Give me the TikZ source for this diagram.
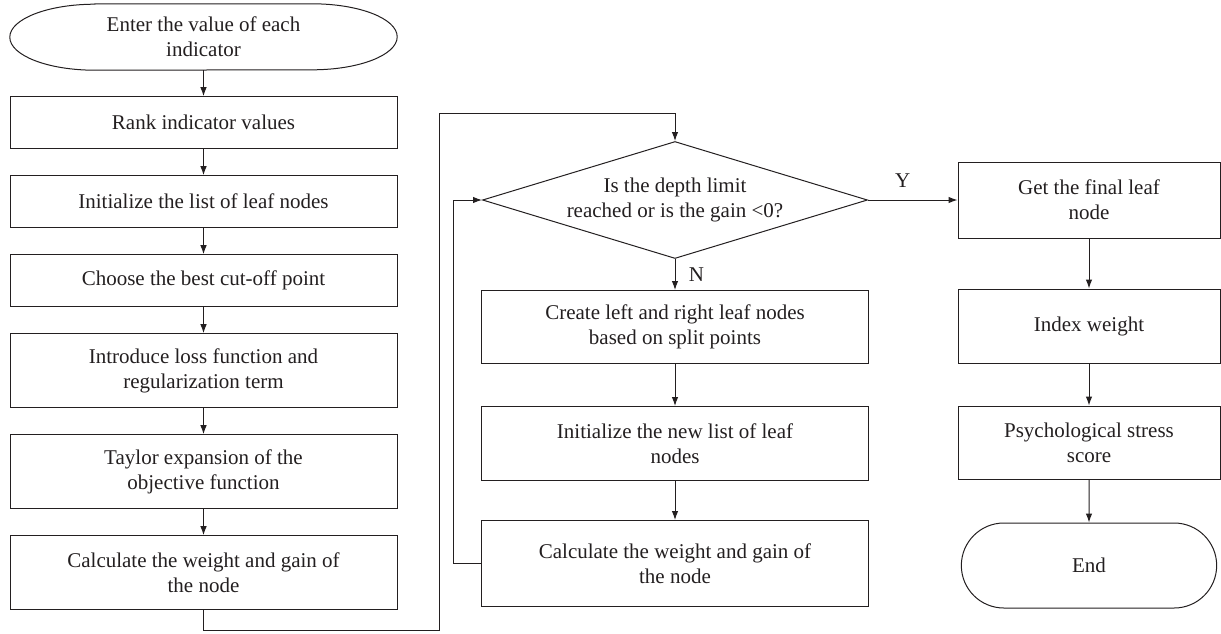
\documentclass[tikz,border=0pt]{standalone}
\usepackage{fontspec}
\setmainfont{Liberation Serif}
\usepackage{tikz}
\usetikzlibrary{positioning,shapes.geometric,shapes.misc,arrows.meta}
\definecolor{inkgray}{HTML}{231F20}

\begin{document}
\begin{tikzpicture}[
    x=1pt, y=-1pt,
    node distance=26pt,
    every node/.style={align=center, text=inkgray, font=\fontsize{21}{25}\selectfont},
    procbox/.style={rectangle, draw=inkgray, line width=1pt, minimum width=387pt, minimum height=52pt, inner sep=2pt},
    tallbox/.style={procbox, minimum height=74pt},
    sidebox/.style={procbox, minimum width=262pt, minimum height=74pt},
    decision/.style={diamond, draw=inkgray, line width=1pt, minimum width=385pt, minimum height=117pt, inner sep=0pt, aspect=3.3},
    flow/.style={draw=inkgray, line width=1pt, -{Latex[length=9pt,width=6.5pt]}}
]
\useasboundingbox (0,0) rectangle (1221,633);

% first column
\node (start) [minimum width=387pt, minimum height=66pt, inner sep=0pt] at (203.5,37) {Enter the value of each\\indicator};
\draw[inkgray, line width=1pt] ([xshift=85pt]start.north west) -- ([xshift=-85pt]start.north east)
    arc[start angle=90, end angle=-90, x radius=85pt, y radius=33pt]
    -- ([xshift=85pt]start.south west)
    arc[start angle=270, end angle=90, x radius=85pt, y radius=33pt] -- cycle;
\node (rank) [procbox, below=of start] {Rank indicator values};
\node (initlist) [procbox, below=of rank] {Initialize the list of leaf nodes};
\node (cutoff) [procbox, below=of initlist] {Choose the best cut-off point};
\node (loss) [tallbox, below=of cutoff] {Introduce loss function and\\regularization term};
\node (taylor) [tallbox, below=of loss] {Taylor expansion of the\\objective function};
\node (calcfirst) [tallbox, below=of taylor] {Calculate the weight and gain of\\the node};

% second column
\node (depth) [decision] at (675,200) {Is the depth limit\\reached or is the gain <0?};
\node (split) [tallbox, minimum height=73pt, below=31pt of depth] {Create left and right leaf nodes\\based on split points};
\node (newlist) [tallbox, below=42pt of split] {Initialize the new list of leaf\\nodes};
\node (calcloop) [tallbox, minimum height=86pt, below=39pt of newlist] {Calculate the weight and gain of\\the node};

% third column
\node (final) [sidebox, minimum height=76pt] at (1089,200) {Get the final leaf\\node};
\node (weight) [sidebox, below=50pt of final] {Index weight};
\node (score) [sidebox, minimum height=73pt, below=42pt of weight] {Psychological stress\\score};
\node (finish) [rounded rectangle, draw=inkgray, line width=1pt, minimum width=262pt, minimum height=85pt, below=43pt of score] {End};

\coordinate (lowbend) at (439,630);
\coordinate (topbend) at (439,113);

\draw[flow] (start) -- (rank);
\draw[flow] (rank) -- (initlist);
\draw[flow] (initlist) -- (cutoff);
\draw[flow] (cutoff) -- (loss);
\draw[flow] (loss) -- (taylor);
\draw[flow] (taylor) -- (calcfirst);
\draw[flow] (calcfirst.south) |- (lowbend) -- (topbend) -| (depth.north);
\draw[flow] (depth.south) -- node[right, xshift=10pt] {N} (split);
\draw[flow] (split) -- (newlist);
\draw[flow] (newlist) -- (calcloop);
\draw[flow] (calcloop.west) -- ++(-28,0) |- (depth.west);
\draw[flow] (depth.east) -- node[above, xshift=-10pt, yshift=9pt] {Y} (final.west);
\draw[flow] (final) -- (weight);
\draw[flow] (weight) -- (score);
\draw[flow] (score) -- (finish);

\end{tikzpicture}
\end{document}
